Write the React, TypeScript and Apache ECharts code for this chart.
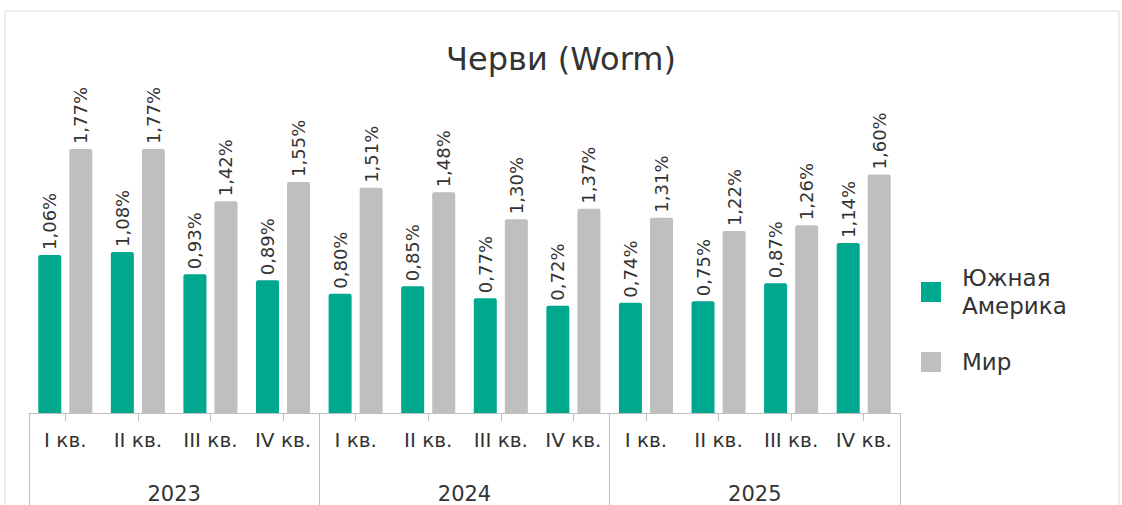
import React, { useEffect, useRef } from "react";
import * as echarts from "echarts";

const quarters = ["I кв.", "II кв.", "III кв.", "IV кв.", "I кв.", "II кв.", "III кв.", "IV кв.", "I кв.", "II кв.", "III кв.", "IV кв."];
const years = ["2023", "2024", "2025"];
const southAmerica = [1.06, 1.08, 0.93, 0.89, 0.80, 0.85, 0.77, 0.72, 0.74, 0.75, 0.87, 1.14];
const world = [1.77, 1.77, 1.42, 1.55, 1.51, 1.48, 1.30, 1.37, 1.31, 1.22, 1.26, 1.60];
const seriesNames = ["Южная\nАмерика", "Мир"];
const titleText = "Черви (Worm)";

const TEXT = "#333333";
const FONT = "DejaVu Sans";

export default function App() {
  const ref = useRef<HTMLDivElement>(null);
  useEffect(() => {
    if (!ref.current) return;
    const chart = echarts.init(ref.current, undefined, { renderer: "svg" });
    const label = {
      show: true,
      position: "top" as const,
      rotate: 90,
      align: "left" as const,
      verticalAlign: "middle" as const,
      distance: 5,
      fontSize: 18,
      fontFamily: FONT,
      color: TEXT,
      formatter: (p: any) => p.value.toFixed(2).replace(".", ",") + "%",
    };
    chart.setOption({
      animation: false,
      backgroundColor: "#ffffff",
      title: {
        text: titleText,
        left: "center",
        top: 38,
        textStyle: { fontSize: 32, fontWeight: "normal", color: TEXT, fontFamily: FONT },
      },
      legend: {
        orient: "vertical",
        left: 916,
        top: 259,
        itemWidth: 20,
        itemHeight: 20,
        itemGap: 28,
        icon: "rect",
        textStyle: { fontSize: 23, lineHeight: 28, color: TEXT, fontFamily: FONT, padding: [0, 0, 0, 16] },
        data: seriesNames,
      },
      graphic: [
        {
          type: "rect",
          shape: { x: 5, y: 11, width: 1114, height: 520 },
          style: { fill: "none", stroke: "#d9d9d9", lineWidth: 1 },
          silent: true,
        },
      ],
      grid: { left: 29, right: 222, top: 85, bottom: 92 },
      xAxis: [
        {
          type: "category",
          data: quarters,
          axisLine: { show: true, lineStyle: { color: "#bfbfbf", width: 1 } },
          axisTick: { show: true, alignWithLabel: true, length: 8, lineStyle: { color: "#bfbfbf" } },
          axisLabel: { interval: 0, margin: 17, fontSize: 20, color: TEXT, fontFamily: FONT },
        },
        {
          type: "category",
          data: years,
          position: "bottom",
          axisLine: { show: false },
          axisTick: { show: true, length: 100, interval: 0, lineStyle: { color: "#bfbfbf" } },
          axisLabel: { interval: 0, margin: 70, fontSize: 21, color: TEXT, fontFamily: FONT },
        },
      ],
      yAxis: { type: "value", min: 0, max: 2.2, show: false, splitLine: { show: false } },
      series: [
        {
          name: seriesNames[0],
          type: "bar",
          data: southAmerica,
          barWidth: 23,
          barGap: "35%",
          itemStyle: { color: "#00a88e", borderRadius: [2, 2, 0, 0] },
          label,
        },
        {
          name: seriesNames[1],
          type: "bar",
          data: world,
          barWidth: 23,
          itemStyle: { color: "#bfbfbf", borderRadius: [2, 2, 0, 0] },
          label,
        },
      ],
    });
    return () => chart.dispose();
  }, []);
  return <div ref={ref} style={{ position: "absolute", left: 0, top: 0, width: 1122, height: 505 }} />;
}
